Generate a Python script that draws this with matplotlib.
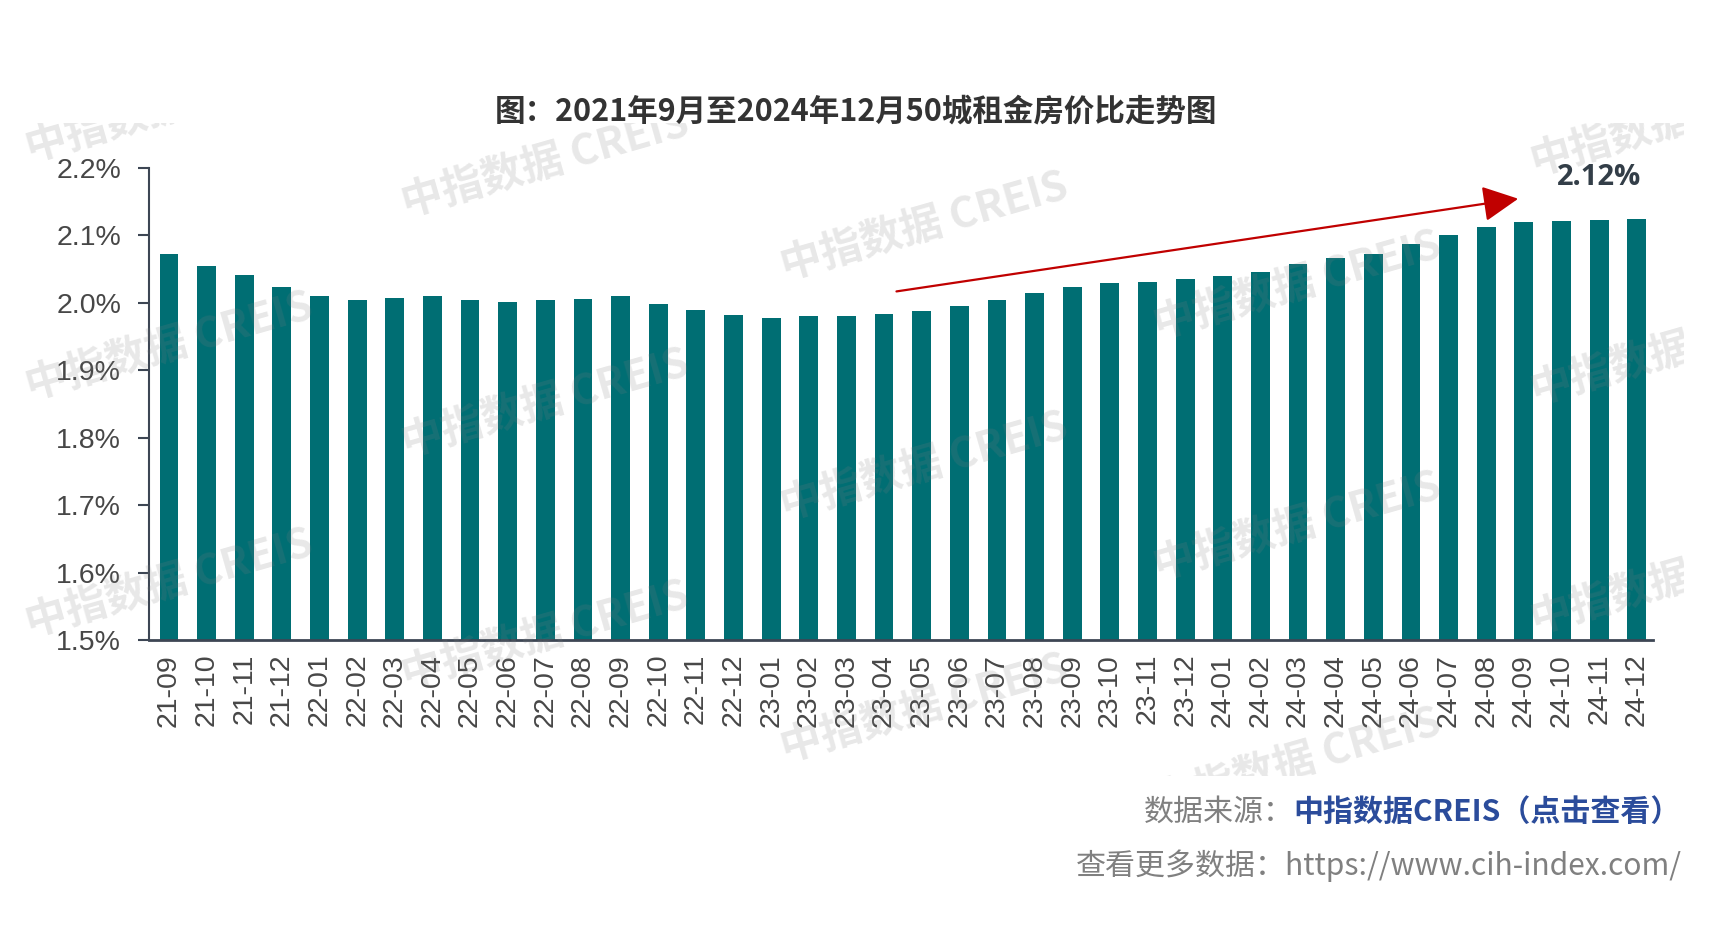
import matplotlib
matplotlib.use("Agg")
import matplotlib.pyplot as plt
from matplotlib.transforms import Bbox, TransformedBbox

# ---- data ----
months = ["21-09", "21-10", "21-11", "21-12",
          "22-01", "22-02", "22-03", "22-04", "22-05", "22-06",
          "22-07", "22-08", "22-09", "22-10", "22-11", "22-12",
          "23-01", "23-02", "23-03", "23-04", "23-05", "23-06",
          "23-07", "23-08", "23-09", "23-10", "23-11", "23-12",
          "24-01", "24-02", "24-03", "24-04", "24-05", "24-06",
          "24-07", "24-08", "24-09", "24-10", "24-11", "24-12"]
ratio = [2.073, 2.054, 2.042, 2.023,
         2.010, 2.004, 2.007, 2.010, 2.005, 2.001,
         2.004, 2.006, 2.010, 1.998, 1.989, 1.982,
         1.978, 1.980, 1.981, 1.984, 1.988, 1.995,
         2.004, 2.015, 2.023, 2.029, 2.031, 2.035,
         2.040, 2.046, 2.058, 2.067, 2.073, 2.088,
         2.101, 2.112, 2.120, 2.122, 2.123, 2.125]
yticks = [1.5, 1.6, 1.7, 1.8, 1.9, 2.0, 2.1, 2.2]
ytick_labels = ["1.5%", "1.6%", "1.7%", "1.8%", "1.9%", "2.0%", "2.1%", "2.2%"]
title = "图：2021年9月至2024年12月50城租金房价比走势图"
end_label = "2.12%"
source_label = "数据来源："
source_name = "中指数据CREIS（点击查看）"
more_label = "查看更多数据：https://www.cih-index.com/"
watermark = "中指数据 CREIS"
watermark_short = "中指数据"

CJK = ["Noto Sans CJK SC", "DejaVu Sans"]

fig = plt.figure(figsize=(17.09, 9.31), dpi=100)
fig.patch.set_facecolor("white")
ax = fig.add_axes([0.0872, 0.3126, 0.880, 0.5069])

x = list(range(len(months)))
ax.bar(x, ratio, width=0.5, color="#006E73", zorder=2)

ax.set_ylim(1.5, 2.2)
ax.set_xlim(-0.53, 39.43)
ax.set_yticks(yticks)
ax.set_yticklabels(ytick_labels, family="Liberation Sans", fontsize=20.5, color="#474747")
ax.set_xticks(x)
ax.set_xticklabels(months, rotation=90, family="Liberation Sans", fontsize=20.5, color="#474747")
ax.tick_params(axis="x", length=0, pad=10)
ax.tick_params(axis="y", length=8, width=1.5, color="#3d4654", pad=12)

for s in ["top", "right"]:
    ax.spines[s].set_visible(False)
ax.spines["left"].set_color("#3d4654")
ax.spines["left"].set_linewidth(1.5)
ax.spines["bottom"].set_color("#3d4654")
ax.spines["bottom"].set_linewidth(2)

# trend arrow
ax.annotate("", xy=(35.85, 2.1545), xytext=(19.33, 2.017),
            arrowprops=dict(arrowstyle="-|>,head_length=1.1,head_width=0.55",
                            color="#C00000", lw=1.6, mutation_scale=20,
                            shrinkA=0, shrinkB=0), zorder=4)
ax.text(38.0, 2.186, end_label, family=["Open Sans", "DejaVu Sans"], fontweight="bold",
        fontsize=21, color="#333e48", ha="center", va="center", zorder=4)

# title
fig.text(0.501, 0.88, title, family=CJK, fontweight="bold", fontsize=22,
         color="#333333", ha="center", va="center")

# footer
blue = fig.text(1681 / 1709, 0.128, source_name, family=CJK,
                fontweight="bold", fontsize=21.6, color="#2B4C9B", ha="right", va="center")
fig.add_artist(plt.Annotation(source_label, xy=(0, 0.5), xycoords=blue,
                              ha="right", va="center", family=CJK, fontsize=21.6,
                              color="#808080", annotation_clip=False))
fig.text(1682 / 1709, 0.070, more_label, family=CJK,
         fontsize=21.6, color="#808080", ha="right", va="center")

# watermarks (clipped to the chart picture region)
clip = TransformedBbox(Bbox([[0.0, 1 - 776 / 931], [1684 / 1709, 1 - 123 / 931]]),
                       fig.transFigure)
wm_pos = [(155, 100), (500, 150), (848, 208), (1190, 262),
          (155, 318), (500, 370), (848, 428), (1190, 483),
          (155, 535), (500, 583), (848, 650), (1190, 700)]
wm_short_pos = [(1478, 128), (1478, 338), (1478, 548)]
for pos_list, txt in ((wm_pos, watermark), (wm_short_pos, watermark_short)):
    for (px, py) in pos_list:
        fx = px * 1.0899 / 1709
        fy = 1 - py * 1.0899 / 931
        t = fig.text(fx, fy, txt, family=CJK, fontsize=30, fontweight="bold",
                     color="#7f7f7f", alpha=0.18, rotation=16, ha="center", va="center",
                     rotation_mode="anchor", zorder=10)
        t.set_clip_on(True)
        t.set_clip_box(clip)

fig.savefig("out.png", dpi=100, facecolor="white")
